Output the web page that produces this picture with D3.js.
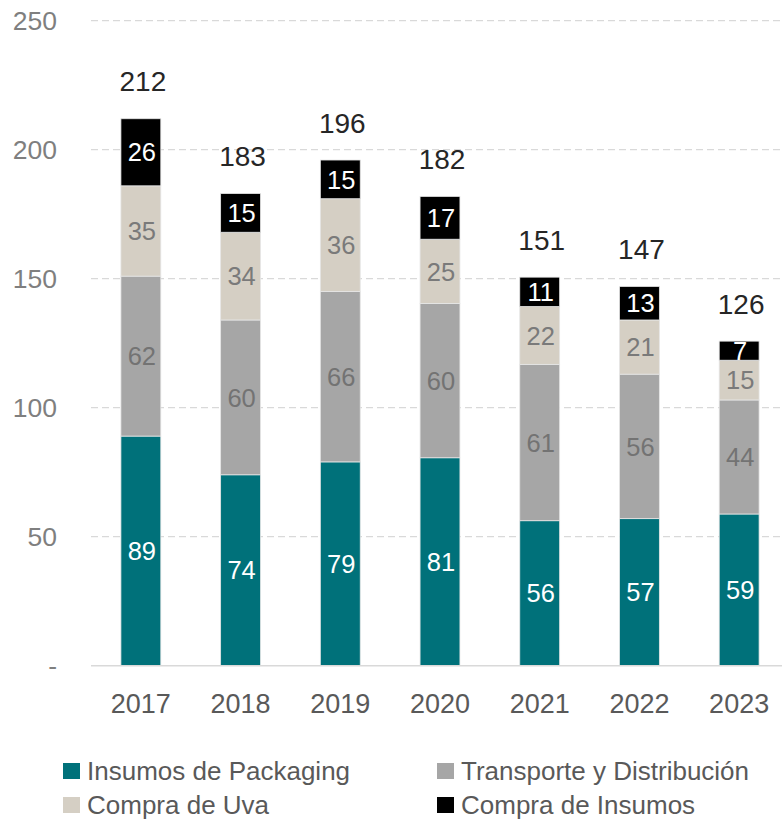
<!DOCTYPE html>
<html><head><meta charset="utf-8">
<script src="https://cdn.jsdelivr.net/npm/d3@7"></script>
<style>body{margin:0;background:#fff}svg{display:block}</style>
</head><body><svg id="c" width="782" height="819"></svg>
<script>
const years = ["2017","2018","2019","2020","2021","2022","2023"];
const packaging = [89, 74, 79, 80.6, 56.2, 57, 58.8];
const transporte = [62, 60, 66, 59.8, 60.6, 56, 44.2];
const uva = [35, 34, 36, 24.9, 22.4, 21, 15.4];
const insumos = [26, 15, 15, 16.6, 11.4, 13, 7.4];
const yTicks = [0, 50, 100, 150, 200, 250];
const seriesNames = ["Insumos de Packaging","Transporte y Distribución","Compra de Uva","Compra de Insumos"];
const seriesColors = ["#00717A","#A6A6A6","#D5CFC4","#000000"];
const labelColors = ["#ffffff","#737373","#7a7a7a","#ffffff"];

const svg = d3.select("#c");
const font = "'Liberation Sans', Arial, sans-serif";
const x = d3.scaleBand().domain(years).range([91, 789]).paddingInner(0.6).paddingOuter(0.3);
const y = d3.scaleLinear().domain([0, 250]).range([665.7, 20.7]);

// grid
svg.append("g").selectAll("line").data(yTicks.filter(d => d > 0)).join("line")
  .attr("x1", 91).attr("x2", 782).attr("y1", d => y(d)).attr("y2", d => y(d))
  .attr("stroke", "#d9d9d9").attr("stroke-width", 1.3).attr("stroke-dasharray", "7,4");
// y labels
const yAxis = d3.axisLeft(y).tickValues(yTicks).tickSize(0).tickPadding(0)
  .tickFormat(d => d === 0 ? "-" : d3.format("d")(d));
const ya = svg.append("g").attr("transform", "translate(57,0)").call(yAxis);
ya.select(".domain").remove();
ya.selectAll("text").attr("font-family", font).attr("font-size", 26.5).attr("fill", "#7f7f7f").attr("dy", "0.35em");

const rows = years.map((yr, i) => ({year: yr, v: [packaging[i], transporte[i], uva[i], insumos[i]]}));
const keys = [0,1,2,3];
const stack = d3.stack().keys(keys).value((d, k) => d.v[k]);
const stacked = stack(rows);

stacked.forEach((layer, li) => {
  const g = svg.append("g");
  g.selectAll("rect").data(layer).join("rect")
    .attr("x", d => x(d.data.year)).attr("width", x.bandwidth())
    .attr("y", d => y(d[1])).attr("height", d => y(d[0]) - y(d[1]))
    .attr("fill", seriesColors[li]).attr("stroke", "#e6e6e6").attr("stroke-width", 0.8);
  g.selectAll("text").data(layer).join("text")
    .attr("x", d => x(d.data.year) + x.bandwidth()/2 + 1)
    .attr("y", d => (y(d[0]) + y(d[1]))/2).attr("dy", "0.36em")
    .attr("text-anchor", "middle").attr("font-family", font).attr("font-size", 25.5)
    .attr("fill", labelColors[li]).text(d => Math.round(d[1] - d[0]));
});

// baseline
svg.append("line").attr("x1", 91).attr("x2", 782).attr("y1", y(0)).attr("y2", y(0))
  .attr("stroke", "#d9d9d9").attr("stroke-width", 1.5);

// totals
svg.append("g").selectAll("text").data(rows).join("text")
  .attr("x", d => x(d.year) + x.bandwidth()/2 + 2)
  .attr("y", d => y(d3.sum(d.v)) - 37.6).attr("dy", "0.36em")
  .attr("text-anchor", "middle").attr("font-family", font).attr("font-size", 28)
  .attr("fill", "#262626").text(d => Math.round(d3.sum(d.v)));

// x labels
const xa = svg.append("g").attr("transform", `translate(0,${y(0)})`).call(d3.axisBottom(x).tickSize(0).tickPadding(0));
xa.select(".domain").remove();
xa.selectAll("text").attr("font-family", font).attr("font-size", 27).attr("fill", "#595959")
  .attr("y", 38).attr("dy", "0.35em");

// legend
const legPos = [[63, 771], [437, 771], [63, 805], [437, 805]];
const lg = svg.append("g").selectAll("g").data(seriesNames).join("g")
  .attr("transform", (d, i) => `translate(${legPos[i][0]},${legPos[i][1]})`);
lg.append("rect").attr("x", 0).attr("y", -8).attr("width", 17).attr("height", 16)
  .attr("fill", (d, i) => seriesColors[i]);
lg.append("text").attr("x", 24).attr("y", 0).attr("dy", "0.35em")
  .attr("font-family", font).attr("font-size", 26).attr("fill", "#595959").text(d => d);
</script></body></html>
